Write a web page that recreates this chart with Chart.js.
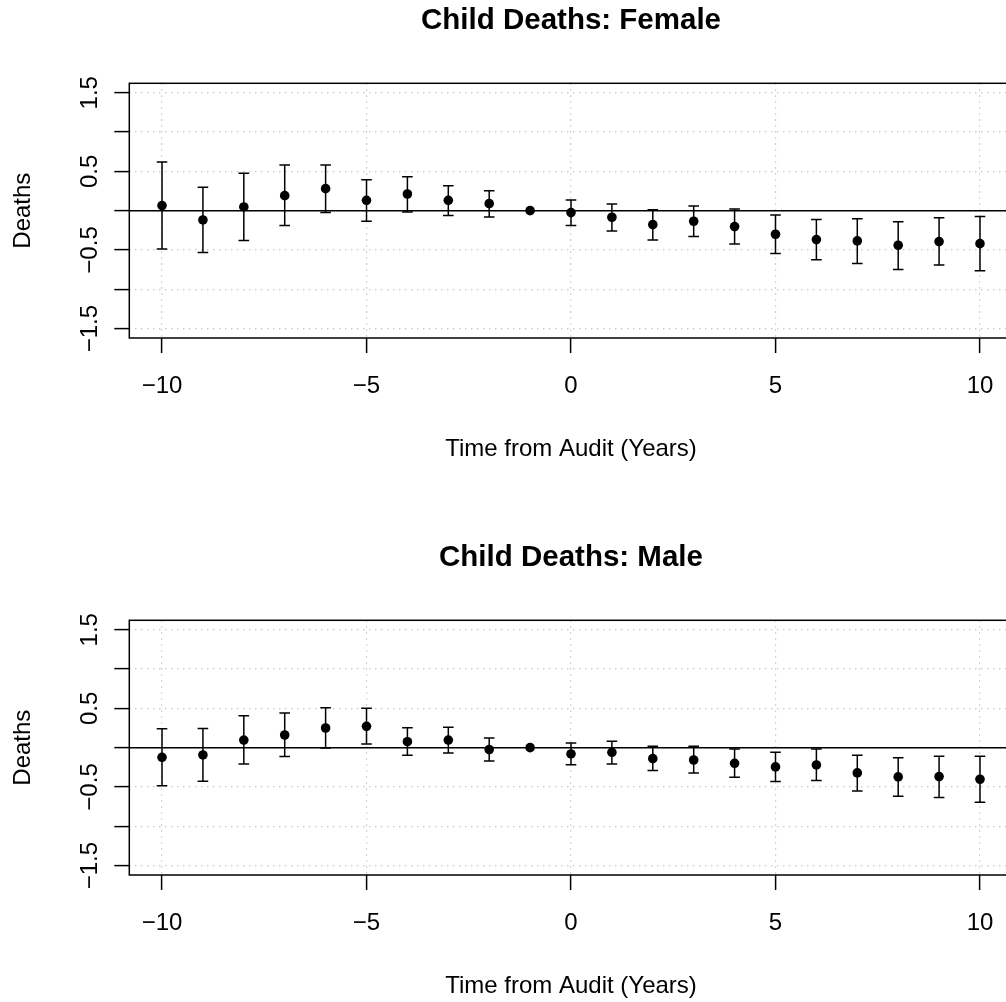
<!DOCTYPE html>
<html>
<head>
<meta charset="utf-8">
<script src="https://cdn.jsdelivr.net/npm/chart.js@4"></script>
<style>
  html, body { margin: 0; padding: 0; background: #fff; overflow: hidden; width: 1006px; height: 1002px; }
  canvas { position: absolute; left: 0; }
  #femaleChart { top: 0; }
  #maleChart { top: 537px; }
</style>
</head>
<body>
<canvas id="femaleChart" width="1040" height="465"></canvas>
<canvas id="maleChart" width="1040" height="465"></canvas>
<script>
// event-study estimates, years relative to the audit
let years = [-10, -9, -8, -7, -6, -5, -4, -3, -2, -1, 0, 1, 2, 3, 4, 5, 6, 7, 8, 9, 10];

let femaleEst = [0.064, -0.118, 0.047, 0.191, 0.28, 0.132, 0.212, 0.132, 0.089, 0, -0.025, -0.084, -0.178, -0.135, -0.203, -0.3, -0.368, -0.385, -0.44, -0.394, -0.42];
let femaleLow = [-0.487, -0.533, -0.381, -0.19, -0.025, -0.135, -0.017, -0.063, -0.08, 0, -0.19, -0.258, -0.372, -0.33, -0.423, -0.546, -0.626, -0.673, -0.75, -0.69, -0.766];
let femaleHigh = [0.62, 0.297, 0.475, 0.581, 0.58, 0.394, 0.432, 0.318, 0.254, 0, 0.136, 0.085, 0.013, 0.06, 0.022, -0.055, -0.114, -0.102, -0.14, -0.089, -0.076];

let maleEst = [-0.123, -0.093, 0.097, 0.161, 0.25, 0.271, 0.076, 0.097, -0.025, 0, -0.08, -0.059, -0.14, -0.157, -0.199, -0.245, -0.22, -0.321, -0.372, -0.368, -0.402];
let maleLow = [-0.486, -0.427, -0.207, -0.114, -0.004, 0.047, -0.097, -0.068, -0.169, 0, -0.216, -0.207, -0.292, -0.321, -0.376, -0.431, -0.419, -0.55, -0.618, -0.635, -0.694];
let maleHigh = [0.241, 0.245, 0.406, 0.44, 0.508, 0.5, 0.254, 0.258, 0.123, 0, 0.059, 0.08, 0.017, 0.017, -0.017, -0.059, -0.017, -0.097, -0.127, -0.11, -0.11];

let xTicks = [-10, -5, 0, 5, 10];
let yTicks = [-1.5, -1, -0.5, 0, 0.5, 1, 1.5];
let yLabelTicks = [-1.5, -0.5, 0.5, 1.5];

const FONT = '"Liberation Sans", Arial, Helvetica, sans-serif';

let fmt = function (v) {
    return v < 0 ? '\u2212' + Math.abs(v) : String(v);
};

let makeChart = function (id, title, est, low, high) {
    let painter = document.getElementById(id).getContext('2d');

    // zero line, error bars, box and the text that R puts in the margins
    let rFrame = {
        id: 'rFrame',
        beforeDatasetsDraw(chart) {
            const { ctx, chartArea: a, scales: { x, y } } = chart;
            ctx.save();
            ctx.strokeStyle = '#000';
            ctx.lineWidth = 1.5;
            const y0 = y.getPixelForValue(0);
            ctx.beginPath();
            ctx.moveTo(a.left, y0);
            ctx.lineTo(a.right, y0);
            ctx.stroke();

            const cap = 5.3;
            years.forEach((yr, i) => {
                if (low[i] === high[i]) return;
                const px = x.getPixelForValue(yr);
                const p1 = y.getPixelForValue(low[i]);
                const p2 = y.getPixelForValue(high[i]);
                ctx.beginPath();
                ctx.moveTo(px, p1); ctx.lineTo(px, p2);
                ctx.moveTo(px - cap, p1); ctx.lineTo(px + cap, p1);
                ctx.moveTo(px - cap, p2); ctx.lineTo(px + cap, p2);
                ctx.stroke();
            });
            ctx.restore();
        },
        afterDraw(chart) {
            const { ctx, chartArea: a, scales: { y } } = chart;
            ctx.save();
            ctx.strokeStyle = '#000';
            ctx.lineWidth = 1.5;
            ctx.strokeRect(a.left, a.top, a.right - a.left, a.bottom - a.top);

            ctx.fillStyle = '#000';
            ctx.textAlign = 'center';
            ctx.textBaseline = 'middle';
            const cx = (a.left + a.right) / 2;
            const cy = (a.top + a.bottom) / 2;

            ctx.font = 'bold 29.5px ' + FONT;
            ctx.fillText(title, cx, 21);

            ctx.font = '24px ' + FONT;
            ctx.fillText('Time from Audit (Years)', cx, 449);

            yLabelTicks.forEach(v => {
                ctx.save();
                ctx.translate(a.left - 39, y.getPixelForValue(v));
                ctx.rotate(-Math.PI / 2);
                ctx.fillText(fmt(v), 0, 0);
                ctx.restore();
            });

            ctx.save();
            ctx.translate(23, cy);
            ctx.rotate(-Math.PI / 2);
            ctx.fillText('Deaths', 0, 0);
            ctx.restore();
            ctx.restore();
        }
    };

    return new Chart(painter, {
        type: 'scatter',
        data: {
            datasets: [{
                data: years.map((yr, i) => ({ x: yr, y: est[i] })),
                backgroundColor: '#000',
                borderWidth: 0,
                pointRadius: 4.8,
                pointHoverRadius: 4.8,
            }]
        },
        options: {
            responsive: false,
            animation: false,
            events: [],
            layout: {
                padding: { top: 83.3, left: 0, right: 27.3, bottom: 0 }
            },
            scales: {
                x: {
                    type: 'linear',
                    min: -10.8,
                    max: 10.8,
                    afterBuildTicks: s => { s.ticks = xTicks.map(v => ({ value: v })); },
                    afterFit: s => { s.height = 127; },
                    border: { display: false, dash: [1.5, 4.5] },
                    grid: {
                        color: '#c8c8c8',
                        lineWidth: 1.2,
                        tickColor: '#000',
                        tickWidth: 1.5,
                        tickLength: 15,
                    },
                    ticks: {
                        color: '#000',
                        padding: 18.6,
                        maxRotation: 0,
                        font: { family: FONT, size: 24 },
                        callback: v => fmt(v),
                    },
                },
                y: {
                    type: 'linear',
                    min: -1.62,
                    max: 1.62,
                    afterBuildTicks: s => { s.ticks = yTicks.map(v => ({ value: v })); },
                    afterFit: s => { s.width = 129.3; },
                    border: { display: false, dash: [1.5, 4.5] },
                    grid: {
                        color: '#c8c8c8',
                        lineWidth: 1.2,
                        tickColor: '#000',
                        tickWidth: 1.5,
                        tickLength: 15,
                    },
                    ticks: { display: false },
                },
            },
            plugins: {
                legend: { display: false },
                tooltip: { enabled: false },
            },
        },
        plugins: [rFrame],
    });
};

window.onload = function () {
    makeChart('femaleChart', 'Child Deaths: Female', femaleEst, femaleLow, femaleHigh);
    makeChart('maleChart', 'Child Deaths: Male', maleEst, maleLow, maleHigh);
};
</script>
</body>
</html>
